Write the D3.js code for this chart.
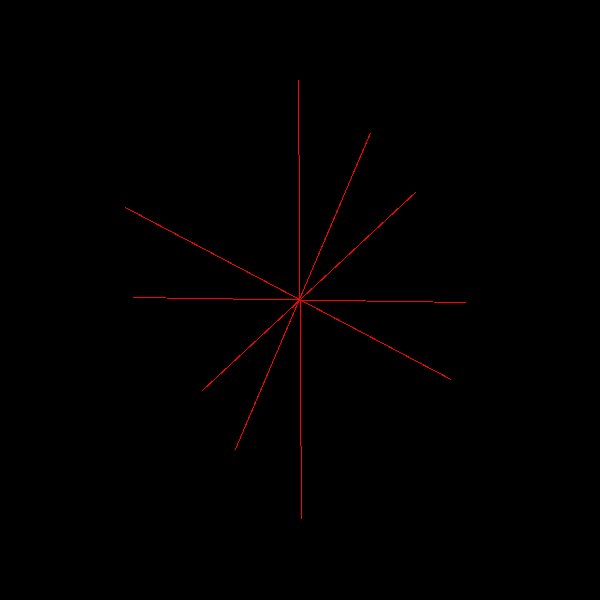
<!DOCTYPE html>
<html>
<head>
<meta charset="utf-8">
<script src="https://cdn.jsdelivr.net/npm/d3@7"></script>
<style>
  html, body { margin: 0; padding: 0; background: #000; }
  svg { display: block; }
</style>
</head>
<body>
<div id="chart"></div>
<script>
// Five line segments passing through the origin (data units, y up)
const lineIds = ["A", "B", "C", "D", "E"];
const startX = [-1.5, 70.5, 116, -167, 150.7];
const startY = [219.5, 166.5, 107.5, 2.0, -79.8];
const endX   = [1.5, -64.7, -98, 166, -175];
const endY   = [-219.5, -150.2, -91.5, -3.0, 92.2];

const width = 600, height = 600;
const x = d3.scaleLinear().domain([-300, 300]).range([0, width]);
const y = d3.scaleLinear().domain([-300, 300]).range([height - 0.5, -0.5]);

const svg = d3.select("#chart").append("svg")
  .attr("width", width).attr("height", height)
  .style("background", "#000");

svg.append("rect").attr("width", width).attr("height", height).attr("fill", "#000");

const data = lineIds.map((id, i) => ({ id, x1: startX[i], y1: startY[i], x2: endX[i], y2: endY[i] }));

svg.selectAll("line.seg").data(data).enter().append("line")
  .attr("class", "seg")
  .attr("x1", d => x(d.x1)).attr("y1", d => y(d.y1))
  .attr("x2", d => x(d.x2)).attr("y2", d => y(d.y2))
  .attr("stroke", "red")
  .attr("stroke-width", 1)
  .attr("shape-rendering", "crispEdges");
</script>
</body>
</html>
